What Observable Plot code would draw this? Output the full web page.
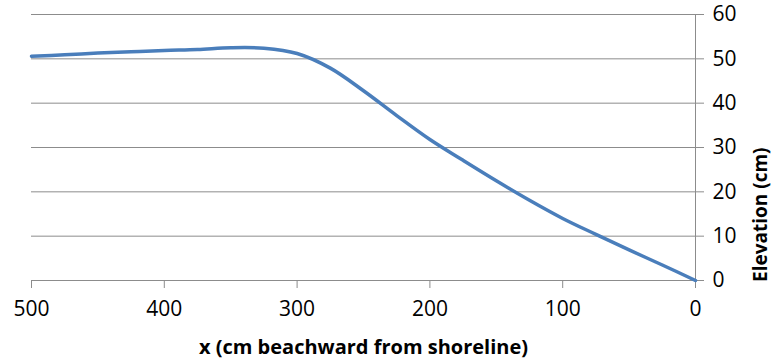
<!DOCTYPE html>
<html>
<head>
<meta charset="utf-8">
<script src="https://cdn.jsdelivr.net/npm/d3@7"></script>
<script src="https://cdn.jsdelivr.net/npm/@observablehq/plot@0.6"></script>
<style>
  html, body { margin: 0; padding: 0; background: #fff; }
  #chart svg { display: block; }
</style>
</head>
<body>
<div id="chart"></div>
<script>
// Beach profile: distance from the shoreline (cm) and surveyed elevation (cm)
const distance = [500, 475, 450, 425, 400, 375, 350, 325, 300, 275, 250, 225, 200, 175, 150, 125, 100, 75, 50, 25, 0];
const elevation = [50.6, 50.9, 51.3, 51.6, 51.9, 52.1, 52.5, 52.4, 51.2, 47.9, 42.8, 37.2, 31.8, 27.1, 22.5, 18.1, 14.0, 10.4, 6.9, 3.5, 0];

const xTicks = [500, 400, 300, 200, 100, 0];
const yTicks = [0, 10, 20, 30, 40, 50, 60];
const xTitle = "x (cm beachward from shoreline)";
const yTitle = "Elevation (cm)";

const profile = distance.map((d, i) => ({distance: d, elevation: elevation[i]}));

const gridColor = "#8c8c8c";
const font = "'Open Sans', sans-serif";

const chart = Plot.plot({
  width: 773,
  height: 364,
  marginLeft: 31,
  marginRight: 78,
  marginTop: 14,
  marginBottom: 84,
  style: {fontFamily: font, fontSize: "21px", color: "#000", background: "#fff"},
  x: {domain: [500, 0], ticks: xTicks},
  y: {domain: [0, 60], ticks: yTicks},
  marks: [
    // horizontal gridlines; the right axis line closes the plot
    Plot.ruleY(yTicks, {x1: 500, x2: 0, stroke: gridColor, strokeWidth: 1}),
    Plot.ruleX([0], {stroke: gridColor, strokeWidth: 1}),
    Plot.axisY({
      anchor: "right", ticks: yTicks, tickSize: 8, tickPadding: 9,
      stroke: gridColor, label: null, fill: "#000", fontSize: 21
    }),
    Plot.axisX({
      anchor: "bottom", ticks: xTicks, tickSize: 8, tickPadding: 13,
      stroke: gridColor, label: null, fill: "#000", fontSize: 21
    }),
    Plot.line(profile, {
      x: "distance", y: "elevation", curve: "catmull-rom",
      stroke: "#4a7ebb", strokeWidth: 3.5, strokeLinecap: "round"
    }),
    Plot.text([xTitle], {
      frameAnchor: "bottom", dy: 73, fontWeight: "bold", fontSize: 20, fill: "#000"
    }),
    Plot.text([yTitle], {
      frameAnchor: "right", rotate: -90, dx: 65, fontWeight: "bold", fontSize: 19, fill: "#000"
    })
  ]
});

document.getElementById("chart").appendChild(chart);
</script>
</body>
</html>
